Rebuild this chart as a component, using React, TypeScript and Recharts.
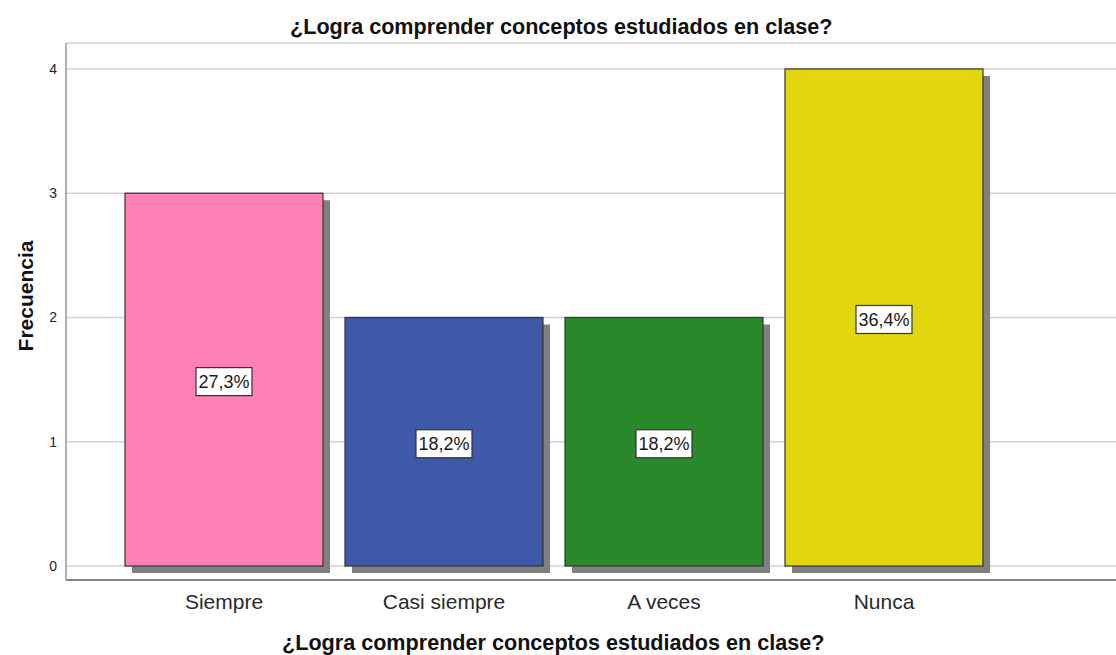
import React from 'react';
import { BarChart, Bar, XAxis, YAxis, CartesianGrid, Cell, LabelList } from 'recharts';

const categories = ['Siempre', 'Casi siempre', 'A veces', 'Nunca'];
const frequencies = [3, 2, 2, 4];
const percentLabels = ['27,3%', '18,2%', '18,2%', '36,4%'];
const barColors = ['#FF80B4', '#3D59A8', '#2A8A2B', '#E2D70F'];
const yTicks = [0, 1, 2, 3, 4];
const chartTitle = '¿Logra comprender conceptos estudiados en clase?';
const xTitle = '¿Logra comprender conceptos estudiados en clase?';
const yTitle = 'Frecuencia';

const data = categories.map((c, i) => ({ name: c, value: frequencies[i], pct: percentLabels[i] }));

const FONT = '"Liberation Sans", Arial, sans-serif';

const ShadowBar = (props: any) => {
  const { x, y, width, height, fill } = props;
  if (width == null || height == null) return null;
  return (
    <g>
      <rect x={x + 7} y={y + 7} width={width} height={height} fill="#808080" />
      <rect x={x} y={y} width={width} height={height} fill={fill} stroke="#333333" strokeWidth={1.2} />
    </g>
  );
};

const PctLabel = (props: any) => {
  const { x, y, width, height, value } = props;
  const cx = x + width / 2;
  const cy = y + height / 2 + 2;
  const w = 56;
  const h = 28;
  return (
    <g>
      <rect x={cx - w / 2} y={cy - h / 2} width={w} height={h} fill="#ffffff" stroke="#333333" strokeWidth={1.2} />
      <text x={cx} y={cy + 6.5} textAnchor="middle" fontSize={18} fontFamily={FONT} fill="#1a1a1a">
        {value}
      </text>
    </g>
  );
};

export default function App() {
  return (
    <div style={{ position: 'absolute', left: 0, top: 0, width: 1116, height: 655, background: '#ffffff', fontFamily: FONT }}>
      <BarChart
        width={1116}
        height={655}
        data={data}
        margin={{ top: 43, right: 0, bottom: 0, left: 0 }}
        barCategoryGap={11}
      >
        <CartesianGrid horizontal vertical={false} stroke="#d2d2d2" strokeWidth={1.5} />
        <XAxis
          dataKey="name"
          height={75}
          padding={{ left: 48, right: 122 }}
          tickLine={false}
          tickSize={0}
          tickMargin={14}
          axisLine={{ stroke: '#666666', strokeWidth: 1.5 }}
          tick={{ fontSize: 21, fill: '#2a2a2a', fontFamily: FONT }}
        />
        <YAxis
          width={66}
          type="number"
          domain={[-0.1126, 4.209]}
          ticks={yTicks}
          allowDataOverflow
          tickLine={false}
          tickSize={0}
          tickMargin={9}
          axisLine={{ stroke: '#999999', strokeWidth: 1.5 }}
          tick={{ fontSize: 14, fill: '#222222', fontFamily: FONT }}
        />
        <Bar dataKey="value" isAnimationActive={false} shape={<ShadowBar />}>
          {data.map((d, i) => (
            <Cell key={d.name} fill={barColors[i]} />
          ))}
          <LabelList dataKey="pct" content={<PctLabel />} />
        </Bar>
      </BarChart>
      <svg width={1116} height={655} style={{ position: 'absolute', left: 0, top: 0, pointerEvents: 'none' }}>
        <text x={290} y={34} textAnchor="start" fontSize={21.6} fontWeight="bold" fontFamily={FONT} fill="#111111">
          {chartTitle}
        </text>
        <text x={282} y={650} textAnchor="start" fontSize={21.6} fontWeight="bold" fontFamily={FONT} fill="#111111">
          {xTitle}
        </text>
        <text x={33} y={296} transform="rotate(-90, 33, 296)" textAnchor="middle" fontSize={21} fontWeight="bold" fontFamily={FONT} fill="#111111">
          {yTitle}
        </text>
      </svg>
    </div>
  );
}
